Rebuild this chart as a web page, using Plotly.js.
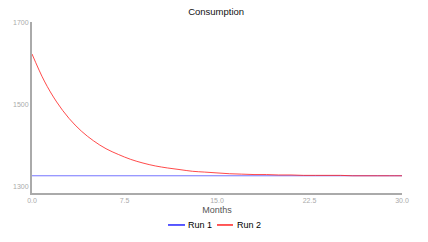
<!DOCTYPE html>
<html>
<head>
<meta charset="utf-8">
<script src="https://cdn.plot.ly/plotly-3.0.1.min.js"></script>
<style>html,body{margin:0;padding:0;background:#fff}#chart{width:428px;height:242px}</style>
</head>
<body>
<div id="chart"></div>
<script>
const months = [0,1,2,3,4,5,6,7,8,9,10,11,12,13,14,15,16,17,18,19,20,21,22,23,24,25,26,27,28,29,30];
const run1 = [1327,1327,1327,1327,1327,1327,1327,1327,1327,1327,1327,1327,1327,1327,1327,1327,1327,1327,1327,1327,1327,1327,1327,1327,1327,1327,1327,1327,1327,1327,1327];
const run2 = [1624,1558,1507,1467,1436,1412,1393,1379,1367,1358,1351,1346,1342,1338,1336,1334,1332,1331,1330,1330,1329,1329,1328,1328,1328,1328,1327,1327,1327,1327,1327];
const seriesNames = ['Run 1','Run 2'];
const xTicks = [0,7.5,15,22.5,30];
const yTicks = [1300,1500,1700];

const colors = ['#0000ff','#ff0000'];
const data = [
  {x: months, y: run1, name: seriesNames[0], mode:'lines', line:{color:'rgba(70,70,255,0.75)', width:1}},
  {x: months, y: run2, name: seriesNames[1], mode:'lines', line:{color:'rgba(255,30,30,0.8)', width:1, shape:'spline'}}
];
const legendShapes = [], legendAnn = [];
const legX = [[0.3676,0.4135,0.4216],[0.5,0.5432,0.554]];
seriesNames.forEach((n,i)=>{
  legendShapes.push({type:'line', xref:'paper', yref:'paper', x0:legX[i][0], x1:legX[i][1], y0:-0.187, y1:-0.187, line:{color:colors[i], width:1.3}});
  legendAnn.push({xref:'paper', yref:'paper', x:legX[i][2], y:-0.187, text:n, showarrow:false, xanchor:'left', yanchor:'middle', xshift:-2, font:{family:'Liberation Sans, Arial', size:9, color:'#000'}});
});
const layout = {
  width:428, height:242,
  margin:{l:32, r:26, t:22, b:49},
  paper_bgcolor:'#fff', plot_bgcolor:'#fff',
  showlegend:false,
  title:{text:'Consumption', x:0.505, xanchor:'center', y:0.95, yanchor:'middle', font:{family:'Liberation Sans, Arial', size:9.5, color:'#111'}},
  xaxis:{range:[0,30], tickvals:xTicks, tickformat:'.1f', showgrid:false, zeroline:false,
    showline:true, linecolor:'#aaaaaa', linewidth:2, ticks:'', ticklen:0,
    tickfont:{family:'Liberation Sans, Arial', size:7, color:'#aaa'},
    title:{text:'Months', standoff:3, font:{family:'Liberation Sans, Arial', size:9, color:'#555'}}},
  yaxis:{range:[1285,1702], tickvals:yTicks, showgrid:false, zeroline:false,
    showline:true, linecolor:'#aaaaaa', linewidth:2, ticks:'', ticklen:0,
    tickfont:{family:'Liberation Sans, Arial', size:7, color:'#aaa'}},
  shapes: legendShapes,
  annotations: legendAnn
};
Plotly.newPlot('chart', data, layout, {displayModeBar:false, staticPlot:true});
</script>
</body>
</html>
